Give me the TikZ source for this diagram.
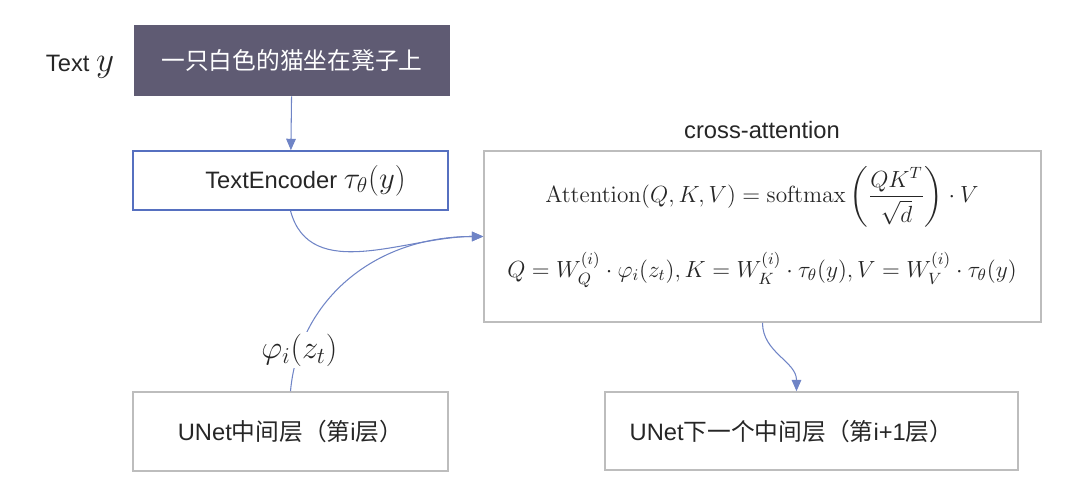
\documentclass[tikz,border=0pt]{standalone}
\usepackage{fix-cm}
\usepackage[no-math]{fontspec}
\setmainfont{Liberation Sans}
\newfontfamily\cjk{Noto Sans CJK SC}
\usepackage{amsmath}
\usetikzlibrary{arrows.meta}
\definecolor{boxdark}{HTML}{5F5B73}
\definecolor{boxblue}{HTML}{5670C0}
\definecolor{boxgray}{HTML}{BDBDBD}
\definecolor{linkblue}{HTML}{6F84C6}
\begin{document}
\begin{tikzpicture}[x=0.02cm,y=-0.02cm,
    every node/.style={font=\fontsize{13.5}{16}\selectfont, text=black!85},
    box/.style={draw=boxgray, line width=0.9pt, inner sep=0pt},
    link/.style={draw=linkblue, line width=0.6pt, -{Triangle[length=6.5pt,width=5.5pt]}},
    bigmath/.style={font=\fontsize{18.5}{21}\selectfont},
    eqmath/.style={font=\fontsize{13.3}{16}\selectfont}]
    \useasboundingbox (0,0) rectangle (1080,499);
    % text input
    \node (texty) at (80,67) {Text {\fontsize{20}{22}\selectfont$y$}};
    \node[fill=boxdark, text=white, minimum width=6.32cm, minimum height=1.42cm, inner sep=0pt] (sent) at (292,60.5) {\cjk 一只白色的猫坐在凳子上};
    \node[box, draw=boxblue, minimum width=6.3cm, minimum height=1.18cm] (enc) at (290.5,180.5) {\kern0.6cm TextEncoder {\fontsize{17.5}{20}\selectfont$\tau_\theta(y)$}};
    % cross-attention
    \node (xlabel) at (762,130) {cross-attention};
    \node[box, minimum width=11.14cm, minimum height=3.42cm] (attn) at (762.5,236.5) {};
    \node[eqmath] (eqatt) at (762,197) {$\displaystyle \mathrm{Attention}(Q,K,V)=\mathrm{softmax}\left(\frac{QK^T}{\sqrt{d}}\right)\cdot V$};
    \node[eqmath] (eqqkv) at (762,270) {$Q=W_Q^{(i)}\cdot\varphi_i(z_t),K=W_K^{(i)}\cdot\tau_\theta(y),V=W_V^{(i)}\cdot\tau_\theta(y)$};
    % unet layers
    \node[box, minimum width=6.3cm, minimum height=1.58cm] (unet) at (290.5,431.5) {UNet{\cjk 中间层（第}i{\cjk 层）}};
    \node[box, minimum width=8.26cm, minimum height=1.56cm] (unetnext) at (811.5,431) {UNet{\cjk 下一个中间层（第}i+1{\cjk 层）}\kern0.8cm};
    % connectors
    \draw[link] (sent) -- (enc);
    \draw[link] (enc.south) to[out=-75,in=180] (attn.west);
    \draw[link] (unet.north) .. controls +(8,-90) and +(-110,0) .. node[pos=0.16, fill=white, inner sep=1pt, bigmath] (phi) {$\varphi_i(z_t)$} (attn.west);
    \draw[link] (attn.south) to[out=-90,in=90] ([xshift=-0.3cm]unetnext.north);
\end{tikzpicture}
\end{document}
